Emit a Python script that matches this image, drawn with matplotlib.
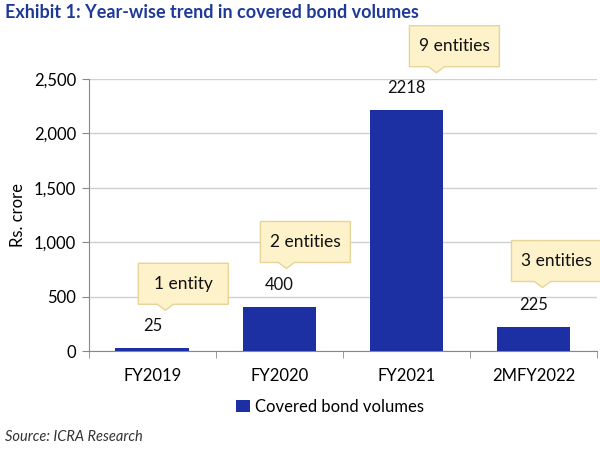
import matplotlib.pyplot as plt
from matplotlib.patches import Polygon
from matplotlib.ticker import FuncFormatter

years = ['FY2019', 'FY2020', 'FY2021', '2MFY2022']
volumes = [25, 400, 2218, 225]
entities = ['1 entity', '2 entities', '9 entities', '3 entities']

# callout layout: (box centre dx, pointer dx, pointer tip dy) in pixels from bar top
callouts = [(31, 13, 38), (26, 7, 39), (48, 30, 37), (23, 9, 39)]

plt.rcParams['font.family'] = ['Lato', 'DejaVu Sans']

fig = plt.figure(figsize=(6, 4.5), dpi=100)
ax = fig.add_axes([0.148, 0.22, 0.847, 0.6044])

x = range(len(years))
bar_col = '#1c2fa3'
ax.bar(x, volumes, width=0.58, color=bar_col, label='Covered bond volumes', zorder=3)
ax.set_xlim(-0.5, len(years) - 0.5)
ax.set_ylim(0, 2500)
ax.set_yticks(range(0, 2501, 500))
ax.yaxis.set_major_formatter(FuncFormatter(lambda v, p: f'{int(v):,}'))
ax.set_xticks(list(x))
ax.set_xticklabels(years)
ax.set_xticks([i - 0.5 for i in range(len(years) + 1)], minor=True)
ax.tick_params(axis='x', which='major', length=0, pad=12, labelsize=12)
ax.tick_params(axis='x', which='minor', length=5, color='#888888')
ax.tick_params(axis='y', length=5, color='#888888', labelsize=12, pad=4)
ax.grid(axis='y', color='#d0d0d0', linewidth=1, zorder=0)
for s in ['top', 'right']:
    ax.spines[s].set_visible(False)
ax.spines['left'].set_color('#888888')
ax.spines['bottom'].set_color('#888888')
ax.set_ylabel('Rs. crore', fontsize=12, labelpad=6)

for i, v in enumerate(volumes):
    ax.annotate(str(v), (i, v), xytext=(0, 22), textcoords='offset pixels',
                ha='center', va='center', fontsize=12, color='#111111', zorder=5)

fig.canvas.draw()
box_w, box_h, ptr_w, ptr_h = 90, 41, 16, 6
for i, (v, lab, (bdx, pdx, tdy)) in enumerate(zip(volumes, entities, callouts)):
    px, py = ax.transData.transform((i, v))
    tip_x, tip_y = px + pdx, py + tdy
    cx = px + bdx
    by = tip_y + ptr_h
    left, right = cx - box_w / 2, cx + box_w / 2
    verts = [(left, by), (tip_x - ptr_w / 2, by), (tip_x, tip_y), (tip_x + ptr_w / 2, by),
             (right, by), (right, by + box_h), (left, by + box_h)]
    poly = Polygon(verts, closed=True, facecolor='#fdf2c9', edgecolor='#e6d49a',
                   linewidth=1, transform=None, zorder=6)
    fig.add_artist(poly)
    fig.text(cx / fig.dpi / 6, (by + box_h / 2) / fig.dpi / 4.5, lab, ha='center', va='center',
             fontsize=12.5, color='#111111', zorder=7)

fig.legend(loc='center', bbox_to_anchor=(0.55, 0.096), frameon=False, fontsize=12,
           handlelength=0.8, handleheight=0.8, handletextpad=0.3)

fig.text(0.008, 0.972, 'Exhibit 1: Year-wise trend in covered bond volumes', fontsize=13,
         fontweight='bold', color='#1f3a96', ha='left', va='center')
fig.text(0.008, 0.028, 'Source: ICRA Research', fontsize=10.5, style='italic',
         color='#333333', ha='left', va='center')

fig.savefig('out.png', dpi=100)
